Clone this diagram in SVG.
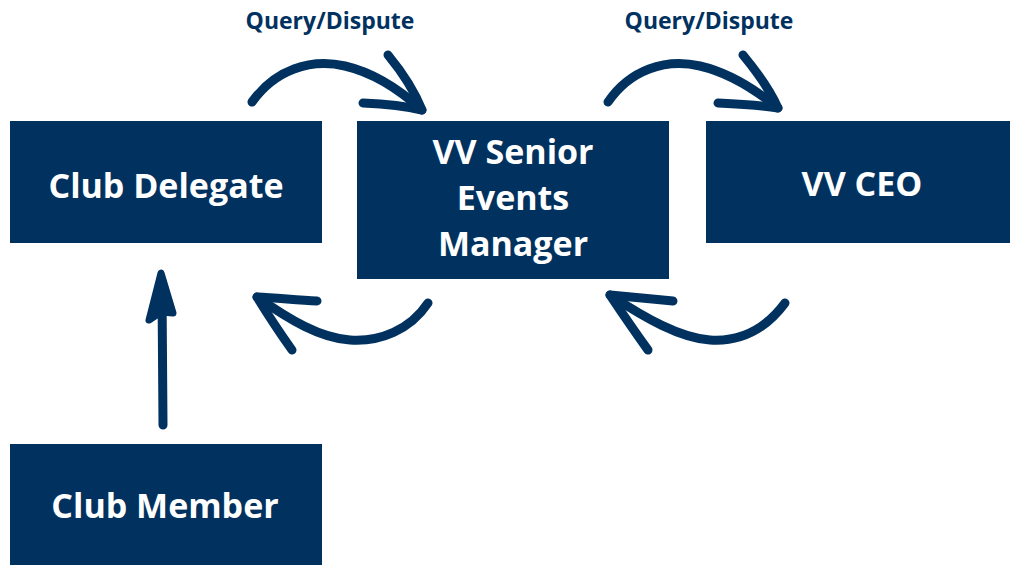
<svg xmlns="http://www.w3.org/2000/svg" width="1010" height="565" viewBox="0 0 1010 565">
<style>
.box{fill:#01325f}
.t{font-family:"Open Sans","Noto Sans","Liberation Sans",sans-serif;font-weight:700;font-size:34px;fill:#ffffff;text-anchor:middle}
.lbl{font-family:"Open Sans","Noto Sans","Liberation Sans",sans-serif;font-weight:700;font-size:23px;fill:#01325f;text-anchor:middle}
.c{fill:none;stroke:#01325f;stroke-width:9;stroke-linecap:round;stroke-linejoin:round}
</style>
<rect width="1010" height="565" fill="#ffffff"/>
<g id="club-delegate">
<rect class="box" x="10" y="121" width="312" height="122"/>
<text class="t" x="166" y="198">Club Delegate</text>
</g>
<g id="senior-events-manager">
<rect class="box" x="357" y="121" width="312" height="158"/>
<text class="t" x="513" y="164">VV Senior</text>
<text class="t" x="513" y="210">Events</text>
<text class="t" x="513" y="256">Manager</text>
</g>
<g id="vv-ceo">
<rect class="box" x="706" y="121" width="304" height="122"/>
<text class="t" x="862" y="196">VV CEO</text>
</g>
<g id="club-member">
<rect class="box" x="10" y="444" width="312" height="121"/>
<text class="t" x="165" y="518">Club Member</text>
</g>
<g id="connectors">
<path class="c" d="M252,102 C275,70 310,58 345,66 C375,73 400,90 422,110"/>
<path class="c" d="M388,55 C402,72 414,90 422,110 C405,106 385,104 363,103"/>
<text class="lbl" x="330" y="29">Query/Dispute</text>
<path class="c" d="M608,102 C630,70 665,58 700,66 C730,73 756,90 778,108"/>
<path class="c" d="M743,55 C757,72 770,90 778,108 C760,105 740,104 718,103"/>
<text class="lbl" x="709" y="29">Query/Dispute</text>
<path class="c" d="M428,303 C410,330 380,342 350,340 C320,338 290,320 257,297"/>
<path class="c" d="M317,301 C297,300 277,298 257,297 C268,315 280,333 292,350"/>
<path class="c" d="M785,303 C765,330 740,342 710,340 C680,338 645,318 610,295"/>
<path class="c" d="M673,301 C652,299 632,297 610,295 C622,313 635,332 648,350"/>
<path class="c" d="M163,425 L162,290"/>
<path d="M161,273 L149,320 L161,312 L173,313 Z" fill="#01325f" stroke="#01325f" stroke-width="7" stroke-linejoin="round"/>
</g>
</svg>
